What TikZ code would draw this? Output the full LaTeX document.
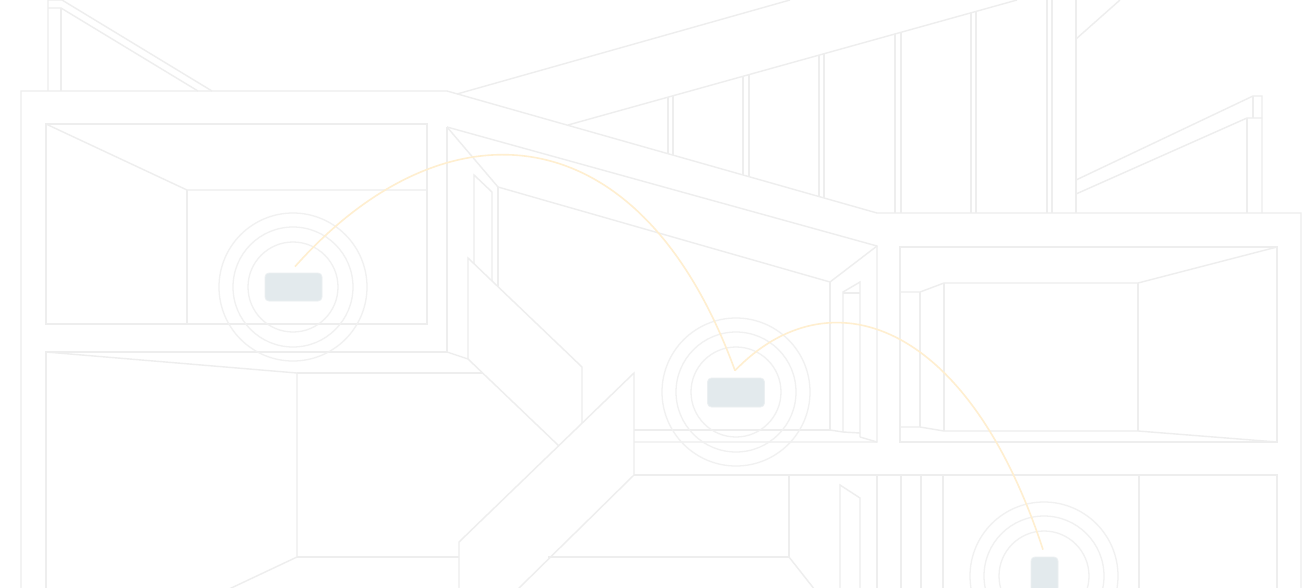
\documentclass[tikz,border=0pt]{standalone}
\definecolor{wall}{RGB}{238,238,238}
\definecolor{ring}{RGB}{241,241,241}
\definecolor{wire}{RGB}{255,239,208}
\definecolor{devfill}{RGB}{227,234,237}
\definecolor{devdraw}{RGB}{236,240,242}
\tikzset{
  wallline/.style={draw=wall,line width=1.4pt,line join=miter},
  ringline/.style={draw=ring,line width=1.3pt},
  wireline/.style={draw=wire,line width=1.6pt},
  device/.style={draw=devdraw,fill=devfill,line width=0.8pt,rounded corners=4pt,inner sep=0pt}
}
\begin{document}
\begin{tikzpicture}[x=1pt,y=-1pt]
\useasboundingbox (0,0) rectangle (1314,587);
\clip (0,0) rectangle (1314,587);
\fill[white] (0,0) rectangle (1314,587);
\begin{scope}[wallline]
% left roof posts
\draw (48,91) -- (48,0) -- (62,0) -- (212,91);
\draw (48,8) -- (61,8) -- (198,91);
\draw (61,8) -- (61,91);
% outer frame
\draw (21,590) -- (21,91) -- (447,91) -- (877,213) -- (1301,213) -- (1301,590);
% upper roof
\draw (457,94) -- (790,0);
\draw (568,125) -- (1017,0);
\draw (668,97.2) -- (668,153.7);
\draw (673,95.8) -- (673,155.1);
\draw (743,76.3) -- (743,175.0);
\draw (749,74.6) -- (749,176.7);
\draw (819,55.1) -- (819,196.6);
\draw (824,53.7) -- (824,198.0);
\draw (895,34.0) -- (895,213);
\draw (901,32.3) -- (901,213);
\draw (971,12.8) -- (971,213);
\draw (976,11.4) -- (976,213);
\draw (1047,0) -- (1047,213);
\draw (1052,0) -- (1052,213);
% right roof
\draw (1076,0) -- (1076,213);
\draw (1076,39) -- (1120,0);
\draw (1076,180) -- (1253,96) -- (1262,96) -- (1262,213);
\draw (1076,194) -- (1247,118) -- (1262,118);
\draw (1253,96) -- (1253,118);
\draw (1247,118) -- (1247,213);
% upper left room
\draw (46,124) rectangle (427,324);
\draw (46,124) -- (187,190) -- (427,190);
\draw (187,190) -- (187,324);
% floor and upper middle room
\draw (46,590) -- (46,352) -- (447,352) -- (447,127);
\draw (447,127) -- (877,246) -- (877,442) -- (634,442);
\draw (447,127) -- (498,187) -- (830,282) -- (877,246);
\draw (498,187) -- (498,286);
\draw (830,282) -- (830,430) -- (634,430);
\draw (843,432) -- (843,292) -- (860,282) -- (860,437);
\draw (843,293) -- (860,293);
\draw (830,430) -- (843,432) -- (860,433);
\draw (860,437) -- (877,442);
\draw (474,264) -- (474,175) -- (492,192) -- (492,281);
% stairs
\draw (468,359) -- (468,258) -- (582,367) -- (582,423);
\draw (447,352) -- (468,359) -- (559,446);
\draw (297,373) -- (483,373);
\draw (46,352) -- (297,373) -- (297,557) -- (227,590);
\draw (459,590) -- (459,542) -- (634,373) -- (634,475) -- (517,590);
\draw (634,475) -- (1277,475) -- (1277,590);
\draw (297,557) -- (459,557);
\draw (548,557) -- (789,557) -- (789,475);
\draw (789,557) -- (815,590);
% lower right
\foreach \xx in {877,901,921,943,1139} {\draw (\xx,475) -- (\xx,590);}
\draw (840,590) -- (840,485) -- (860,498) -- (860,590);
% right upper room
\draw (900,247) rectangle (1277,442);
\draw (900,292) -- (920,292) -- (944,283) -- (1138,283) -- (1277,247);
\draw (920,292) -- (920,427);
\draw (944,283) -- (944,431);
\draw (1138,283) -- (1138,431);
\draw (900,427) -- (920,427) -- (944,431) -- (1138,431) -- (1277,442);
\end{scope}
% rings
\foreach \cx/\cy in {293/287,736/392,1044/576} {
  \foreach \r in {45,60,74} {\draw[ringline] (\cx,\cy) circle[radius=\r];}
}
% devices
\node[device,minimum width=57pt,minimum height=28pt] (d1) at (293.5,287) {};
\node[device,minimum width=57pt,minimum height=29pt] (d2) at (736,392.5) {};
\node[device,minimum width=27pt,minimum height=38pt] (d3) at (1044.5,576) {};
\coordinate (w1) at ([xshift=1.5pt,yshift=6pt]d1.north);
\coordinate (w2) at ([xshift=-1pt,yshift=7pt]d2.north);
\coordinate (w3) at ([xshift=-1.5pt,yshift=7pt]d3.north);
\draw[wireline] (w1) .. controls (445,98) and (640,110) .. (w2);
\draw[wireline] (w2) .. controls (828,274) and (967,318) .. (w3);
\end{tikzpicture}
\end{document}
